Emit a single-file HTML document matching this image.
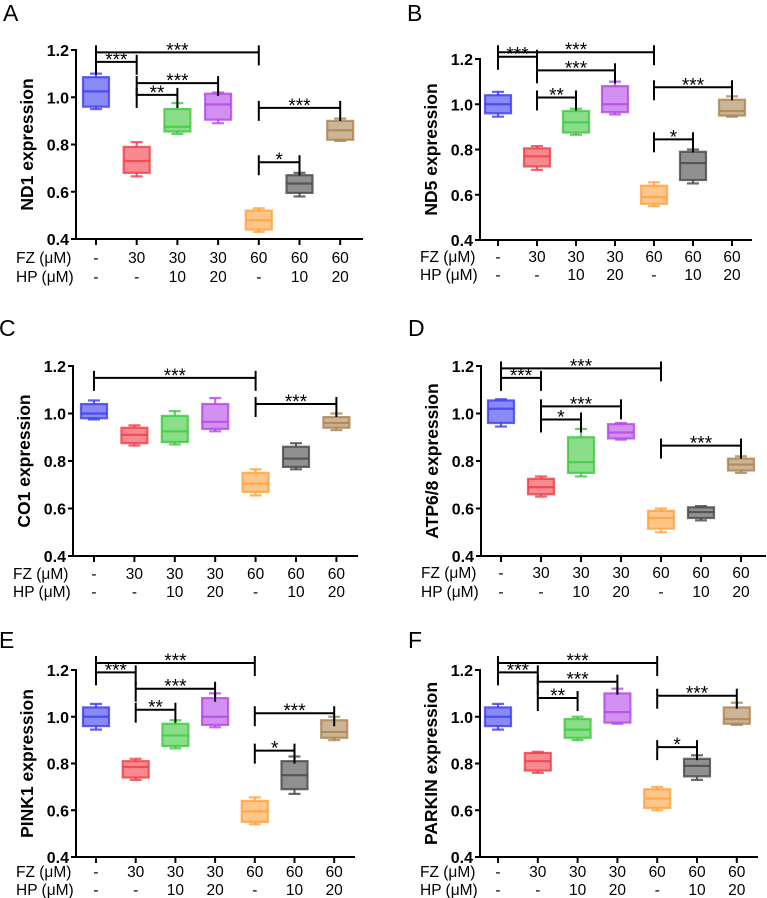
<!DOCTYPE html>
<html><head><meta charset="utf-8">
<style>
html,body{margin:0;padding:0;background:#fff;}
svg{display:block;font-family:"Liberation Sans",Arial,sans-serif;}
</style></head>
<body>
<svg id="fig" width="767" height="898" viewBox="0 0 767 898" xmlns="http://www.w3.org/2000/svg"></svg>
<script>
const fzLabels = ["-","30","30","30","60","60","60"];
const hpLabels = ["-","-","10","20","-","10","20"];
const yTicks = [0.4,0.6,0.8,1.0,1.2];
const yTickLabels = ["0.4","0.6","0.8","1.0","1.2"];
const colors = ["#3c3cf0","#f03c46","#3cc83c","#b446e6","#ffa03c","#464646","#aa8250"];

// Panel A - ND1
const aLow  = [0.95,0.665,0.845,0.89,0.43,0.58,0.815];
const aQ1   = [0.96,0.68,0.855,0.905,0.44,0.595,0.82];
const aMed  = [1.025,0.73,0.875,0.97,0.48,0.635,0.86];
const aQ3   = [1.085,0.79,0.95,1.015,0.52,0.67,0.90];
const aHigh = [1.10,0.81,0.975,1.02,0.53,0.68,0.91];
const aSig  = [[0,4,1.19,"***"],[0,1,1.15,"***"],[1,3,1.06,"***"],[1,2,1.01,"**"],[4,6,0.955,"***"],[4,5,0.725,"*"]];
// Panel B - ND5
const bLow  = [0.945,0.71,0.865,0.955,0.55,0.65,0.945];
const bQ1   = [0.96,0.725,0.875,0.965,0.56,0.665,0.95];
const bMed  = [1.0,0.77,0.92,1.0,0.59,0.74,0.97];
const bQ3   = [1.04,0.805,0.97,1.08,0.64,0.79,1.02];
const bHigh = [1.055,0.815,0.98,1.10,0.655,0.80,1.035];
const bSig  = [[0,4,1.23,"***"],[0,1,1.21,"***"],[1,3,1.15,"***"],[1,2,1.03,"**"],[4,6,1.075,"***"],[4,5,0.845,"*"]];
// Panel C - CO1
const cLow  = [0.975,0.865,0.87,0.925,0.655,0.765,0.93];
const cQ1   = [0.98,0.875,0.88,0.935,0.67,0.775,0.94];
const cMed  = [1.0,0.91,0.925,0.965,0.705,0.81,0.96];
const cQ3   = [1.04,0.94,0.99,1.04,0.75,0.86,0.985];
const cHigh = [1.055,0.95,1.01,1.065,0.765,0.875,1.0];
const cSig  = [[0,4,1.15,"***"],[4,6,1.04,"***"]];
// Panel D - ATP6/8
const dLow  = [0.945,0.65,0.735,0.89,0.50,0.55,0.75];
const dQ1   = [0.96,0.66,0.75,0.895,0.515,0.56,0.76];
const dMed  = [1.02,0.69,0.795,0.92,0.56,0.585,0.785];
const dQ3   = [1.055,0.725,0.90,0.955,0.59,0.605,0.81];
const dHigh = [1.06,0.735,0.935,0.96,0.60,0.61,0.82];
const dSig  = [[0,4,1.19,"***"],[0,1,1.15,"***"],[1,3,1.03,"***"],[1,2,0.975,"*"],[4,6,0.865,"***"]];
// Panel E - PINK1
const eLow  = [0.945,0.73,0.865,0.955,0.54,0.67,0.90];
const eQ1   = [0.96,0.74,0.875,0.965,0.55,0.69,0.91];
const eMed  = [1.0,0.785,0.92,1.0,0.595,0.75,0.935];
const eQ3   = [1.04,0.81,0.97,1.08,0.64,0.81,0.985];
const eHigh = [1.055,0.82,0.985,1.10,0.655,0.83,1.0];
const eSig  = [[0,4,1.23,"***"],[0,1,1.19,"***"],[1,3,1.12,"***"],[1,2,1.03,"**"],[4,6,1.015,"***"],[4,5,0.855,"*"]];
// Panel F - PARKIN
const fLow  = [0.945,0.76,0.90,0.97,0.60,0.73,0.965];
const fQ1   = [0.96,0.77,0.91,0.975,0.61,0.745,0.97];
const fMed  = [1.0,0.81,0.945,1.02,0.65,0.79,0.99];
const fQ3   = [1.04,0.845,0.99,1.10,0.69,0.82,1.04];
const fHigh = [1.055,0.85,1.0,1.12,0.70,0.835,1.06];
const fSig  = [[0,4,1.23,"***"],[0,1,1.19,"***"],[1,3,1.15,"***"],[1,2,1.08,"**"],[4,6,1.09,"***"],[4,5,0.87,"*"]];

const panels = [
 {id:"a",letter:"A",title:"ND1 expression",lx:3,ly:21,ax:76,y12:50,y04:239,x0:96,dx:40.7,xe:363,r1:263,r2:282,low:aLow,q1:aQ1,med:aMed,q3:aQ3,high:aHigh,sig:aSig},
 {id:"b",letter:"B",title:"ND5 expression",lx:407,ly:21,ax:480,y12:59,y04:240,x0:498,dx:39,xe:752,r1:262,r2:280,low:bLow,q1:bQ1,med:bMed,q3:bQ3,high:bHigh,sig:bSig},
 {id:"c",letter:"C",title:"CO1 expression",lx:-1,ly:336,ax:73,y12:366,y04:556,x0:94,dx:40.4,xe:358,r1:579,r2:597,low:cLow,q1:cQ1,med:cMed,q3:cQ3,high:cHigh,sig:cSig},
 {id:"d",letter:"D",title:"ATP6/8 expression",lx:408,ly:336,ax:481,y12:366,y04:556,x0:501,dx:40,xe:766,r1:578,r2:597,low:dLow,q1:dQ1,med:dMed,q3:dQ3,high:dHigh,sig:dSig},
 {id:"e",letter:"E",title:"PINK1 expression",lx:-1,ly:648,ax:76,y12:670,y04:857,x0:96,dx:39.7,xe:355,r1:877,r2:895,low:eLow,q1:eQ1,med:eMed,q3:eQ3,high:eHigh,sig:eSig},
 {id:"f",letter:"F",title:"PARKIN expression",lx:408,ly:648,ax:480,y12:670,y04:857,x0:498,dx:39.8,xe:758,r1:877,r2:895,low:fLow,q1:fQ1,med:fMed,q3:fQ3,high:fHigh,sig:fSig}
];
const NS="http://www.w3.org/2000/svg";
const svg=document.getElementById("fig");
function mk(tag,attrs,parent,txt){const e=document.createElementNS(NS,tag);for(const k in attrs)e.setAttribute(k,attrs[k]);if(txt!==undefined)e.textContent=txt;parent.appendChild(e);return e;}

panels.forEach(p=>{
  const g=mk("g",{},svg);
  
  
  const yS=v=>p.y04+(v-0.4)/0.8*(p.y12-p.y04);
  const xS=i=>p.x0+i*p.dx;
  const L=mk("text",{x:p.lx,y:p.ly,"font-size":23,fill:"#000"},g,p.letter);
  
  
  const ya=mk("line",{x1:p.ax,y1:p.y12-1,x2:p.ax,y2:p.y04+1,stroke:"#000","stroke-width":2},g);
  
  
  const xa=mk("line",{x1:p.ax-1,y1:p.y04,x2:p.xe,y2:p.y04,stroke:"#000","stroke-width":2},g);
  
  
  yTicks.forEach((t,i)=>{
    mk("line",{x1:p.ax-5,y1:yS(t),x2:p.ax,y2:yS(t),stroke:"#000","stroke-width":2},g);
    const tl=mk("text",{x:p.ax-7,y:yS(t)+6,"font-size":16,"font-weight":"bold","text-anchor":"end"},g,yTickLabels[i]);
    
    
  });
  const cy=(p.y12+p.y04)/2, cx=p.ax-43;
  const yt=mk("text",{x:cx,y:cy,"font-size":17.5,"font-weight":"bold","text-anchor":"middle",transform:`rotate(-90 ${cx} ${cy})`},g,p.title);
  
  
  const f1=mk("text",{x:p.ax-60,y:p.r1,"font-size":15.5},g,"FZ (\u03BCM)");
  
  
  const f2=mk("text",{x:p.ax-60,y:p.r2,"font-size":15.5},g,"HP (\u03BCM)");
  
  
  for(let i=0;i<7;i++){
    const x=xS(i);
    mk("line",{x1:x,y1:p.y04,x2:x,y2:p.y04+6,stroke:"#000","stroke-width":2},g);
    const a=mk("text",{x:x,y:p.r1,"font-size":15.5,"text-anchor":"middle"},g,fzLabels[i]);
    
    
    const b=mk("text",{x:x,y:p.r2,"font-size":15.5,"text-anchor":"middle"},g,hpLabels[i]);
    
    
    const c=colors[i], bw=26;
    const bg=mk("g",{stroke:c,"stroke-width":2.2,"stroke-opacity":0.8},g);
    
    
    mk("line",{x1:x,y1:yS(p.high[i]),x2:x,y2:yS(p.q3[i])},bg);
    mk("line",{x1:x,y1:yS(p.q1[i]),x2:x,y2:yS(p.low[i])},bg);
    mk("line",{x1:x-6,y1:yS(p.high[i]),x2:x+6,y2:yS(p.high[i])},bg);
    mk("line",{x1:x-6,y1:yS(p.low[i]),x2:x+6,y2:yS(p.low[i])},bg);
    const r=mk("rect",{x:x-bw/2,y:yS(p.q3[i]),width:bw,height:yS(p.q1[i])-yS(p.q3[i]),fill:c,"fill-opacity":0.6},bg);
    
    
    const m=mk("line",{x1:x-bw/2,y1:yS(p.med[i]),x2:x+bw/2,y2:yS(p.med[i])},bg);
    
    
  }
  p.sig.forEach(s=>{
    const x1=xS(s[0]),x2=xS(s[1]),y=yS(s[2]);
    const sg=mk("g",{stroke:"#000","stroke-width":2},g);
    
    
    mk("line",{x1:x1,y1:y,x2:x2,y2:y},sg);
    mk("line",{x1:x1,y1:y-7,x2:x1,y2:y+13},sg);
    mk("line",{x1:x2,y1:y-7,x2:x2,y2:y+13},sg);
    const st=mk("text",{x:(x1+x2)/2,y:y+4,"font-size":19,"text-anchor":"middle"},g,s[3]);
    
    
  });
});
</script>
</body></html>
